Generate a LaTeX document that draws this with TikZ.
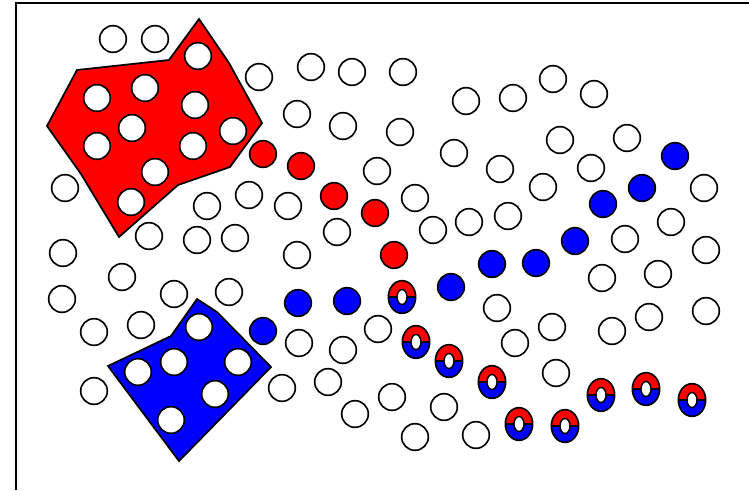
\documentclass[tikz,border=0pt]{standalone}
\usepackage{tkz-euclide}
\usetikzlibrary{shapes.geometric}
\definecolor{RedZone}{rgb}{1,0,0}
\definecolor{BlueZone}{rgb}{0,0,1}

\tikzset{
  blank/.style={circle,draw=black,line width=1.4pt,fill=white,minimum size=0.8cm,inner sep=0pt},
  redball/.style={blank,fill=RedZone},
  blueball/.style={blank,fill=BlueZone},
  mixball/.style={ellipse,draw=black,line width=1.4pt,minimum width=0.82cm,minimum height=0.98cm,inner sep=0pt,
    path picture={
      \fill[RedZone] (path picture bounding box.north west) rectangle (path picture bounding box.east);
      \fill[BlueZone] (path picture bounding box.west) rectangle (path picture bounding box.south east);
      \draw[line width=1.6pt] (path picture bounding box.west) -- (path picture bounding box.east);
    }},
  holeball/.style={ellipse,draw=black,fill=white,line width=1.2pt,minimum width=0.3cm,minimum height=0.45cm,inner sep=0pt}
}

\begin{document}
\begin{tikzpicture}[x=0.03cm,y=-0.03cm]
\useasboundingbox (0,0) rectangle (749,490);
\tkzSetUpLine[line width=1.5pt,color=black]

\coordinate (F1) at (16,490);
\coordinate (F2) at (16,3);
\coordinate (F3) at (749,3);
\draw[line width=1.7pt] (F1) -- (F2) -- (F3);

\tkzDefPoints{47/126/R1,77/70/R2,169/60/R3,199/19/R4,229/63/R5,262/123/R6,230/167/R7,178/185/R8,119/237/R9,81/174/R10}
\tkzDefPoints{108/366/B1,171/336/B2,197/299/B3,217/312/B4,271/367/B5,179/461/B6}

\tkzFillPolygon[fill=RedZone](R1,R2,R3,R4,R5,R6,R7,R8,R9,R10)
\tkzFillPolygon[fill=BlueZone](B1,B2,B3,B4,B5,B6)
\tkzDrawPolygon[line width=1.5pt,line join=miter](R1,R2,R3,R4,R5,R6,R7,R8,R9,R10)
\tkzDrawPolygon[line width=1.5pt,line join=miter](B1,B2,B3,B4,B5,B6)

% inside the zones
\foreach \x/\y [count=\i] in {97/98,145/88,198/56,132/128,195/105,97/146,193/146,233/131,155/172,131/202}
  \node[blank] (r\i) at (\x,\y) {};
\foreach \x/\y [count=\i] in {199/327,174/362,138/372,238/362,215/394,171/420}
  \node[blank] (b\i) at (\x,\y) {};

% free ones
\foreach \x/\y [count=\i] in {113/39,155/39,259/77,311/67,352/72,403/72,466/101,513/98,553/79,594/94,
  297/114,343/126,400/132,454/153,560/140,627/138,65/188,207/206,249/195,288/206,
  377/171,500/169,591/168,543/187,704/188,415/198,149/236,197/240,235/238,63/253,
  297/255,337/232,433/230,469/222,508/216,671/222,625/239,706/250,122/277,62/299,
  174/294,229/292,602/278,658/274,94/332,141/325,497/308,299/343,343/350,378/329,
  552/327,515/343,612/331,649/317,706/311,94/391,282/388,328/382,355/414,392/397,
  444/407,415/437,476/435,556/373}
  \node[blank] (w\i) at (\x,\y) {};

\foreach \x/\y [count=\i] in {263/154,301/166,334/196,375/213,394/255}
  \node[redball] (p\i) at (\x,\y) {};
\foreach \x/\y [count=\i] in {263/331,298/303,347/301,451/287,492/264,536/263,575/241,603/204,642/188,675/156}
  \node[blueball] (q\i) at (\x,\y) {};
\foreach \x/\y [count=\i] in {402/297,416/342,449/361,492/382,519/424,565/426,601/395,646/389,692/400}{
  \node[mixball] (m\i) at (\x,\y) {};
  \node[holeball] (h\i) at (m\i.center) {};
}

\end{tikzpicture}
\end{document}
